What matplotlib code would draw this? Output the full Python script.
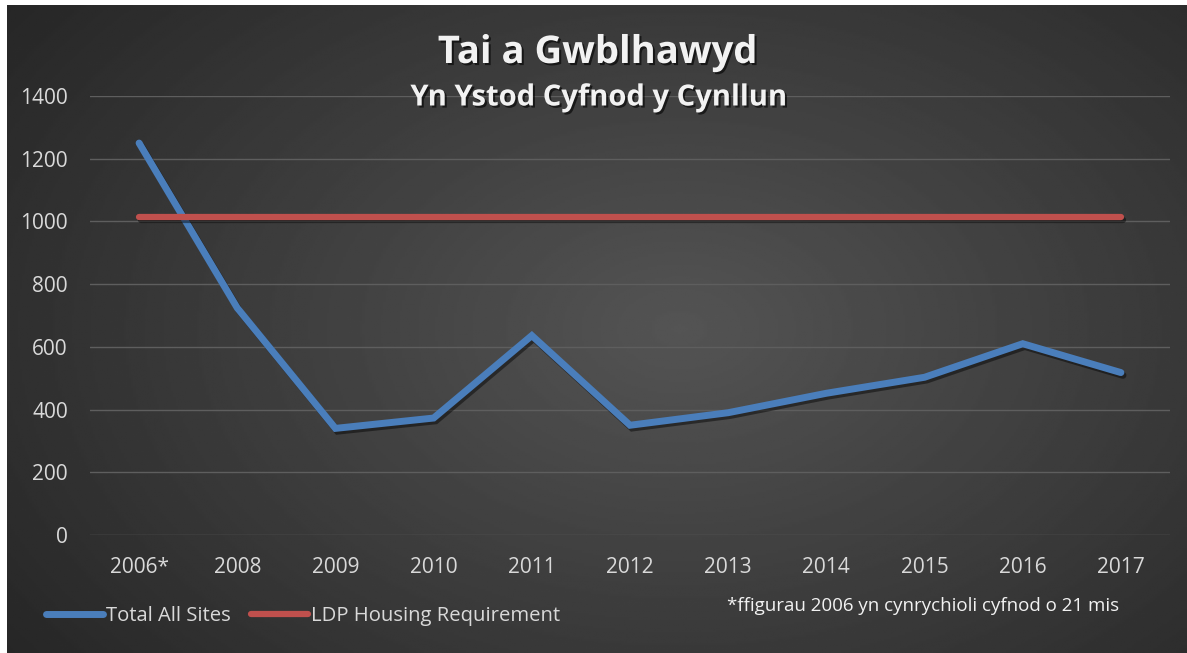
import matplotlib.pyplot as plt
import matplotlib.patheffects as pe
import numpy as np

# -- Data --
years = ["2006*", "2008", "2009", "2010", "2011", "2012", "2013", "2014", "2015", "2016", "2017"]
total_all_sites = [1250, 724, 340, 373, 636, 350, 390, 452, 503, 610, 518]
ldp_requirement = [1013] * len(years)

# -- Figure with dark radial background --
fig = plt.figure(figsize=(11.87, 6.53), dpi=100)
fig.patch.set_facecolor("white")

bg = fig.add_axes([7 / 1187, 0, 1 - 7 / 1187, 1 - 5 / 653])
bg.set_axis_off()
yy, xx = np.mgrid[0:1:300j, 0:1:500j]
r = np.sqrt(((xx - 0.57) / 0.75) ** 2 + ((yy - 0.5) / 0.9) ** 2)
shade = 0.33 - 0.19 * np.clip(r, 0, 1)
bg.imshow(shade, cmap="gray", vmin=0, vmax=1, aspect="auto", extent=[0, 1, 0, 1])

ax = fig.add_axes([90 / 1187, 1 - 535 / 653, 1080 / 1187, (535 - 96) / 653])
ax.patch.set_alpha(0)

x = np.arange(len(years))
shadow = [pe.SimpleLineShadow(offset=(1.5, -2), shadow_color="black", alpha=0.45), pe.Normal()]
ax.plot(x, total_all_sites, color="#4a7ebb", lw=5, solid_capstyle="round",
        solid_joinstyle="miter", label="Total All Sites", path_effects=shadow, zorder=3)
ax.plot(x, ldp_requirement, color="#c0504d", lw=4.5, solid_capstyle="round",
        label="LDP Housing Requirement", path_effects=shadow, zorder=3)

ax.set_xlim(-0.5, len(years) - 0.5)
ax.set_ylim(0, 1400)
ax.set_yticks(np.arange(0, 1401, 200))
ax.set_xticks(x)
ax.set_xticklabels(years)
ax.grid(axis="y", color="#5e5e5e", lw=1)
ax.set_axisbelow(True)
for s in ax.spines.values():
    s.set_visible(False)
ax.tick_params(length=0, colors="#d9d9d9", labelsize=15)
ax.tick_params(axis="y", pad=16)
ax.tick_params(axis="x", pad=16)
for lab in ax.get_xticklabels() + ax.get_yticklabels():
    lab.set_fontfamily("Open Sans")

# -- Titles --
tshadow = [pe.withSimplePatchShadow(offset=(1.5, -1.5), shadow_rgbFace="black", alpha=0.6)]
fig.text(598 / 1187, 1 - 53 / 653, "Tai a Gwblhawyd", ha="center", va="center",
         fontsize=27.5, fontweight="bold", family="Open Sans", color="#f2f2f2", path_effects=tshadow)
fig.text(599 / 1187, 1 - 98 / 653, "Yn Ystod Cyfnod y Cynllun", ha="center", va="center",
         fontsize=21, fontweight="bold", family="Open Sans", color="#f2f2f2", path_effects=tshadow)

# -- Legend and footnote --
leg = fig.legend(loc="center left", bbox_to_anchor=(28 / 1187, 1 - 616 / 653), ncol=2,
                 frameon=False, handlelength=2.8, handletextpad=0.15, columnspacing=1.0,
                 prop={"family": "Open Sans", "size": 14.6})
for t in leg.get_texts():
    t.set_color("#d9d9d9")
for h in leg.legend_handles:
    h.set_path_effects([])

fig.text(727 / 1187, 1 - 606 / 653, "*ffigurau 2006 yn cynrychioli cyfnod o 21 mis",
         ha="left", va="center", fontsize=13.5, family="Open Sans", color="#f2f2f2")

fig.savefig("out.png", dpi=100, facecolor=fig.get_facecolor())
